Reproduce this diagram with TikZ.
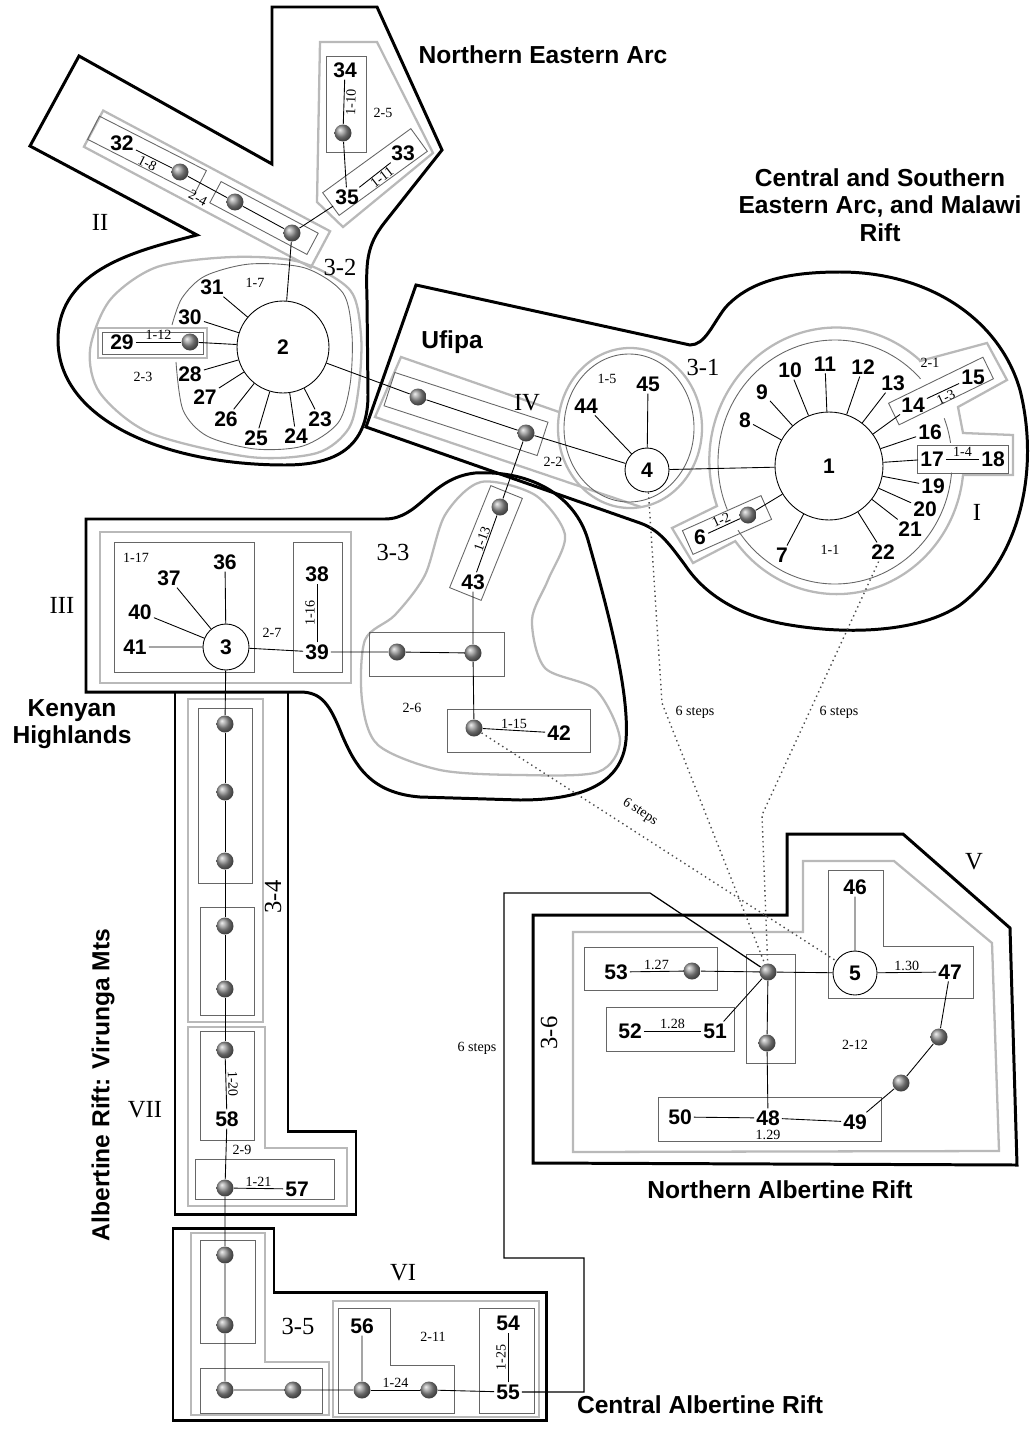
\documentclass[tikz,border=0pt]{standalone}
\usepackage{fontspec}
\setmainfont{Liberation Serif}
\setsansfont{Liberation Sans}

\begin{document}
\begin{tikzpicture}[x=0.02cm, y=-0.02cm, line width=0.5pt]
\tikzset{
    num/.style={font=\sffamily\bfseries\fontsize{12}{12}\selectfont, inner sep=1pt},
    lab/.style={font=\fontsize{8}{8}\selectfont, inner sep=1pt},
    romanlab/.style={font=\fontsize{14}{14}\selectfont, inner sep=0pt},
    areatext/.style={font=\sffamily\bfseries\fontsize{14}{15.5}\selectfont, align=center, inner sep=0pt},
    hap/.style={circle, shading=ball, ball color=gray!85, minimum size=0.34cm, inner sep=0pt},
    bigc/.style={circle, draw, fill=white, inner sep=0pt, num},
    region/.style={line width=1.7pt},
    clade/.style={draw=gray!55, line width=1.3pt},
    hbox/.style={draw=black!60, line width=0.5pt},
    steps/.style={dotted, line width=0.8pt, draw=black!70}
}
\useasboundingbox (0,0) rectangle (1034,1430);

% --- areas (black) ---
\draw[region] (79,56) -- (272,164) -- (272,7) -- (377,7) -- (442,150) -- (385,222)
    .. controls (366,246) and (366,262) .. (367,300) -- (368,395)
    .. controls (368,448) and (335,465) .. (285,465)
    .. controls (165,465) and (58,420) .. (58,340)
    .. controls (58,268) and (140,250) .. (197,235) -- (30,146) -- cycle;
\draw[region] (416,285) -- (690,345) .. controls (705,345) and (712,325) .. (725,308)
    .. controls (750,280) and (790,272) .. (840,272)
    .. controls (930,272) and (1000,320) .. (1020,390)
    .. controls (1040,470) and (1020,560) .. (960,605)
    .. controls (920,632) and (850,635) .. (790,625)
    .. controls (740,617) and (705,595) .. (685,565)
    .. controls (670,545) and (660,530) .. (640,523) -- (366,427) -- cycle;
\draw[region] (86,519) -- (385,519) .. controls (420,519) and (430,478) .. (475,473)
    .. controls (530,470) and (575,495) .. (588,540)
    .. controls (605,600) and (630,690) .. (626,740)
    .. controls (622,785) and (580,800) .. (520,800) -- (420,797)
    .. controls (370,793) and (355,765) .. (342,735)
    .. controls (330,705) and (322,692) .. (300,692) -- (86,692) -- cycle;
\draw[region] (175,692) -- (175,1214) -- (356,1214) -- (356,1131) -- (288,1131) -- (288,692);
\draw[region] (173,1228) -- (274,1228) -- (274,1292) -- (546,1292) -- (546,1420) -- (173,1420) -- cycle;
\draw[region] (533,915) -- (787,915) -- (787,834) -- (903,834) -- (1010,928) -- (1017,1165) -- (533,1163) -- cycle;

% --- clades (grey) ---
\draw[clade, rotate around={-28:(207,189)}] (78.5,168.5) rectangle (335.5,209.5);
\draw[clade] (320,42) -- (377,42) -- (433,153) -- (343,227) -- (317,202) -- cycle;
\draw[clade] plot[smooth cycle] coordinates {(110,300) (157,267) (233,257) (300,262) (350,290)
    (361,335) (359,385) (349,428) (317,453) (250,457) (150,433) (100,393) (90,350)};
\draw[clade] (98,328) rectangle (207,358);
\draw[clade] (559,412) -- (401,357) -- (375,417) -- (641,507);
\draw[clade] (630,428) ellipse [x radius=72, y radius=80];
\draw[clade] (920,361) -- (987,343) -- (1007,380) -- (958,407) -- (963,433) -- (1013,435) -- (1013,475) -- (963,475)
    arc[start angle=6, end angle=143, x radius=127, y radius=133] -- (693,563) -- (672,528) -- (717,506)
    arc[start angle=160, end angle=311, x radius=127, y radius=133] -- cycle;
\draw[clade] (100,532) rectangle (351,683);
\draw[clade] plot[smooth cycle] coordinates {(481,482) (535,495) (565,535) (548,580) (532,620) (545,668)
    (596,690) (620,740) (598,772) (520,775) (440,770) (378,745) (362,700) (365,640) (395,615) (425,575) (445,515)};
\draw[clade] (188,699) rectangle (263,1022);
\draw[clade] (188,1027) -- (265,1027) -- (265,1148) -- (347,1148) -- (347,1206) -- (188,1206) -- cycle;
\draw[clade] (191,1233) -- (265,1233) -- (265,1362) -- (329,1362) -- (329,1415) -- (191,1415) -- cycle;
\draw[clade] (333,1301) rectangle (539,1417);
\draw[clade] (573,932) -- (803,932) -- (803,861) -- (894,861) -- (992,943) -- (999,1151) -- (573,1152) -- cycle;

% --- boxes (thin) ---
\draw[hbox, rotate around={-27:(147,155)}] (87,142) rectangle (207,168);
\draw[hbox, rotate around={-28:(264,218)}] (209,206) rectangle (319,230);
\draw[hbox] (326,56) rectangle (366,152);
\draw[hbox, rotate around={36:(375,172)}] (320.5,158) rectangle (429.5,186);
\draw[hbox] (102,332) rectangle (203,354);
\draw[hbox] plot[smooth] coordinates {(172,325) (182,298) (205,276) (250,264) (305,268) (343,293)
    (352,335) (350,385) (338,423) (303,446) (255,449) (207,436) (183,410) (176,362)};
\draw[hbox, rotate around={-18:(466,414)}] (385.5,396.5) rectangle (546.5,431.5);
\draw[hbox] (629,428) ellipse [x radius=65, y radius=74];
\draw[hbox] (835,462) ++(157:117 and 122) arc[start angle=157, end angle=317, x radius=117, y radius=122];
\draw[hbox] (835,462) ++(-21:117 and 122) arc[start angle=-21, end angle=-9, x radius=117, y radius=122];
\draw[hbox] (835,462) ++(5:117 and 122) arc[start angle=5, end angle=146, x radius=117, y radius=122];
\draw[hbox, rotate around={24:(727,525)}] (684,512) rectangle (770,538);
\draw[hbox, rotate around={26:(941,391)}] (888.5,379) rectangle (993.5,403);
\draw[hbox] (917,445) rectangle (1008,473);
\draw[hbox] (114,542) rectangle (254,672);
\draw[hbox] (293,542) rectangle (342,672);
\draw[hbox, rotate around={68:(486,543)}] (431,526) rectangle (541,560);
\draw[hbox] (369,632) rectangle (504,676);
\draw[hbox] (447,709) rectangle (590,752);
\draw[hbox] (198,708) rectangle (252,883);
\draw[hbox] (200,907) rectangle (254,1015);
\draw[hbox] (200,1031) rectangle (254,1140);
\draw[hbox] (195,1159) rectangle (334,1199);
\draw[hbox] (200,1240) rectangle (255,1343);
\draw[hbox] (200,1368) rectangle (322,1413);
\draw[hbox] (338,1308) -- (390,1308) -- (390,1365) -- (454,1365) -- (454,1413) -- (338,1413) -- cycle;
\draw[hbox] (479,1308) rectangle (534,1413);
\draw[hbox] (584,947) rectangle (717,990);
\draw[hbox] (606,1007) rectangle (734,1051);
\draw[hbox] (746,954) rectangle (795,1063);
\draw[hbox] (828,870) -- (883,870) -- (883,946) -- (973,946) -- (973,998) -- (828,998) -- cycle;
\draw[hbox] (658,1097) rectangle (881,1141);

% --- nodes: II ---
\node[bigc, minimum size=1.84cm] (c2) at (283,347) {2};
\node[num] (n23) at (320,419) {23};
\node[num] (n24) at (296,436) {24};
\node[num] (n25) at (256,438) {25};
\node[num] (n26) at (226,419) {26};
\node[num] (n27) at (205,397) {27};
\node[num] (n28) at (190,374) {28};
\node[num] (n29) at (122,342) {29};
\node[hap] (h29) at (190,342) {};
\node[num] (n30) at (190,317) {30};
\node[num] (n31) at (212,287) {31};
\node[num] (n32) at (122,143) {32};
\node[hap] (h32) at (180,172) {};
\node[hap] (hA) at (235,202) {};
\node[hap] (hB) at (292,233) {};
\node[num] (n34) at (345,70) {34};
\node[hap] (h34) at (343,133) {};
\node[num] (n35) at (347,197) {35};
\node[num] (n33) at (403,153) {33};

% --- nodes: I and IV ---
\node[bigc, minimum size=2.16cm] (c1) at (829,466) {1};
\node[num] (n7) at (782,555) {7};
\node[num] (n8) at (745,420) {8};
\node[num] (n9) at (762,392) {9};
\node[num] (n10) at (790,370) {10};
\node[num] (n11) at (825,364) {11};
\node[num] (n12) at (863,367) {12};
\node[num] (n13) at (893,383) {13};
\node[num] (n14) at (913,405) {14};
\node[num] (n15) at (973,377) {15};
\node[num] (n16) at (930,432) {16};
\node[num] (n17) at (932,459) {17};
\node[num] (n18) at (993,459) {18};
\node[num] (n19) at (933,486) {19};
\node[num] (n20) at (925,509) {20};
\node[num] (n21) at (910,529) {21};
\node[num] (n22) at (883,552) {22};
\node[num] (n6) at (700,537) {6};
\node[hap] (h6) at (748,515) {};
\node[bigc, minimum size=0.88cm] (c4) at (647,470) {4};
\node[num] (n44) at (586,406) {44};
\node[num] (n45) at (648,384) {45};
\node[hap] (hU1) at (418,397) {};
\node[hap] (hU2) at (526,433) {};

% --- nodes: III ---
\node[bigc, minimum size=0.92cm] (c3) at (226,647) {3};
\node[num] (n36) at (225,562) {36};
\node[num] (n37) at (169,578) {37};
\node[num] (n40) at (140,612) {40};
\node[num] (n41) at (135,647) {41};
\node[num] (n38) at (317,574) {38};
\node[num] (n39) at (317,652) {39};
\node[hap] (hM1) at (397,652) {};
\node[hap] (hM2) at (473,653) {};
\node[num] (n43) at (473,582) {43};
\node[hap] (h43) at (500,507) {};
\node[hap] (h42) at (474,728) {};
\node[num] (n42) at (559,733) {42};

% --- nodes: VII ---
\node[hap] (hV1) at (225,724) {};
\node[hap] (hV2) at (225,792) {};
\node[hap] (hV3) at (225,861) {};
\node[hap] (hV4) at (225,926) {};
\node[hap] (hV5) at (225,989) {};
\node[hap] (hV6) at (225,1050) {};
\node[num] (n58) at (227,1119) {58};
\node[hap] (hV7) at (225,1188) {};
\node[num] (n57) at (297,1189) {57};

% --- nodes: VI ---
\node[hap] (hW1) at (225,1255) {};
\node[hap] (hW2) at (225,1325) {};
\node[hap] (hW3) at (225,1390) {};
\node[hap] (hW4) at (293,1390) {};
\node[hap] (hW5) at (362,1390) {};
\node[num] (n56) at (362,1326) {56};
\node[hap] (hW6) at (429,1390) {};
\node[num] (n55) at (508,1392) {55};
\node[num] (n54) at (508,1323) {54};

% --- nodes: V ---
\node[num] (n53) at (616,972) {53};
\node[hap] (h53) at (692,971) {};
\node[hap] (hC) at (768,972) {};
\node[bigc, minimum size=0.88cm] (c5) at (855,973) {5};
\node[num] (n46) at (855,887) {46};
\node[num] (n47) at (950,972) {47};
\node[num] (n52) at (630,1031) {52};
\node[num] (n51) at (715,1031) {51};
\node[hap] (hD) at (767,1043) {};
\node[num] (n50) at (680,1117) {50};
\node[num] (n48) at (768,1118) {48};
\node[num] (n49) at (855,1122) {49};
\node[hap] (hE) at (901,1083) {};
\node[hap] (hF) at (939,1037) {};

% --- edges ---
\draw (c2)--(n23) (c2)--(n24) (c2)--(n25) (c2)--(n26) (c2)--(n27) (c2)--(n28);
\draw (c2)--(n30) (c2)--(n31) (c2)--(h29) (c2)--(hB) (c2)--(hU1);
\draw (n29) -- node[lab, above] {1-12} (h29);
\draw (n32) -- node[lab, below, sloped, pos=0.4] {1-8} (h32);
\draw (h32)--(hA) (hA)--(hB) (hB)--(n35) (h34)--(n35);
\draw (h34) -- node[lab, below, sloped] {1-10} (n34);
\draw (n35) -- node[lab, below, sloped, pos=0.6, inner sep=0.5pt] {1-11} (n33);

\draw (c1)--(n7) (c1)--(n8) (c1)--(n9) (c1)--(n10) (c1)--(n11) (c1)--(n12) (c1)--(n13);
\draw (c1)--(n14) (c1)--(n16) (c1)--(n17) (c1)--(n19) (c1)--(n20) (c1)--(n21) (c1)--(n22);
\draw (c1)--(h6) (c1)--(c4);
\draw (n14) -- node[lab, below, sloped] {1-3} (n15);
\draw (n17) -- node[lab, above] {1-4} (n18);
\draw (n6) -- node[lab, above, sloped] {1-2} (h6);
\draw (c4)--(n44) (c4)--(n45) (c4)--(hU2) (hU2)--(hU1) (hU2)--(h43);

\draw (c3)--(n36) (c3)--(n37) (c3)--(n40) (c3)--(n41) (c3)--(n39) (c3)--(hV1);
\draw (n39) -- node[lab, above, sloped] {1-16} (n38);
\draw (n39)--(hM1) (hM1)--(hM2) (hM2)--(n43) (hM2)--(h42);
\draw (n43) -- node[lab, above, sloped, pos=0.55, inner sep=0.5pt] {1-13} (h43);
\draw (h42) -- node[lab, above] {1-15} (n42);

\draw (hV1)--(hV2) (hV2)--(hV3) (hV3)--(hV4) (hV4)--(hV5) (hV5)--(hV6);
\draw (n58) -- node[lab, above, sloped] {1-20} (hV6);
\draw (n58)--(hV7) (hV7)--(hW1);
\draw (hV7) -- node[lab, above] {1-21} (n57);

\draw (hW1)--(hW2) (hW2)--(hW3) (hW3)--(hW4) (hW4)--(hW5) (hW5)--(n56) (hW6)--(n55);
\draw (hW5) -- node[lab, above] {1-24} (hW6);
\draw (n55) -- node[lab, above, sloped] {1-25} (n54);

\draw (n53) -- node[lab, above] {1.27} (h53);
\draw (h53)--(hC) (hC)--(c5) (hC)--(n51) (hC)--(hD) (hD)--(n48);
\draw (n52) -- node[lab, above] {1.28} (n51);
\draw (c5) -- node[lab, above] {1.30} (n47);
\draw (c5)--(n46) (n50)--(n48) (n48)--(n49) (n49)--(hE) (hE)--(hF) (hF)--(n47);

% --- 6 steps ---
\draw[steps] (c4) -- (662,703) -- (hC);
\draw[steps] (n22) -- (762,815) -- (hC);
\draw[steps] (h42) -- (c5);
\draw[line width=0.7pt] (n55) -- (584,1392) -- (584,1258) -- (504,1258) -- (504,893) -- (650,893) -- (hC);
\node[lab] at (695,712) {6 steps};
\node[lab] at (839,712) {6 steps};
\node[lab, rotate=-33] at (640,812) {6 steps};
\node[lab] at (477,1048) {6 steps};

% --- labels ---
\node[lab] at (255,283) {1-7};
\node[lab] at (143,377) {2-3};
\node[lab, rotate=-27] at (198,198) {2-4};
\node[lab] at (383,113) {2-5};
\node[lab] at (607,379) {1-5};
\node[lab] at (553,462) {2-2};
\node[lab] at (930,363) {2-1};
\node[lab] at (830,550) {1-1};
\node[lab] at (136,558) {1-17};
\node[lab] at (272,633) {2-7};
\node[lab] at (412,708) {2-6};
\node[lab] at (242,1150) {2-9};
\node[lab] at (433,1337) {2-11};
\node[lab] at (855,1045) {2-12};
\node[lab] at (768,1135) {1.29};

\node[romanlab] at (100,222) {II};
\node[romanlab] at (340,267) {3-2};
\node[romanlab] at (527,403) {IV};
\node[romanlab] at (703,367) {3-1};
\node[romanlab] at (977,512) {I};
\node[romanlab] at (62,605) {III};
\node[romanlab] at (393,552) {3-3};
\node[romanlab, rotate=90] at (273,897) {3-4};
\node[romanlab] at (145,1110) {VII};
\node[romanlab] at (403,1273) {VI};
\node[romanlab] at (298,1326) {3-5};
\node[romanlab] at (974,862) {V};
\node[romanlab, rotate=90] at (549,1033) {3-6};

\node[areatext] at (543,55) {Northern Eastern Arc};
\node[areatext] at (880,205) {Central and Southern\\Eastern Arc, and Malawi\\Rift};
\node[areatext] at (452,342) {Ufipa};
\node[areatext] at (72,724) {Kenyan\\Highlands};
\node[areatext, rotate=90] at (103,1085) {Albertine Rift: Virunga Mts};
\node[areatext] at (780,1190) {Northern Albertine Rift};
\node[areatext] at (700,1405) {Central Albertine Rift};
\end{tikzpicture}
\end{document}
